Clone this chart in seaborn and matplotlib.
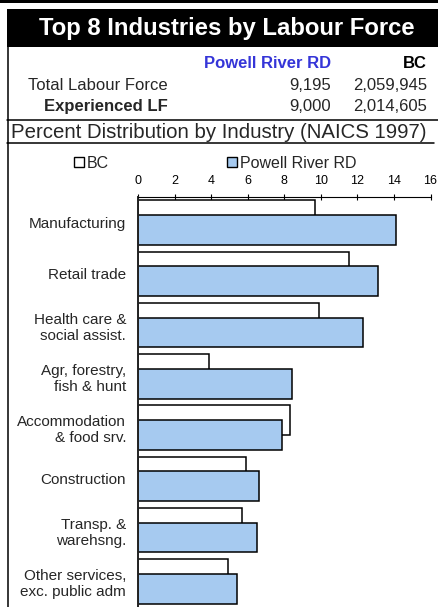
import matplotlib
matplotlib.use("Agg")
import matplotlib.pyplot as plt
from matplotlib.patches import Rectangle
from matplotlib.lines import Line2D
import seaborn as sns
import pandas as pd

# ---- data ----
industries = ["Manufacturing", "Retail trade", "Health care &\nsocial assist.",
              "Agr, forestry,\nfish & hunt", "Accommodation\n& food srv.",
              "Construction", "Transp. &\nwarehsng.", "Other services,\nexc. public adm"]
bc_values = [9.7, 11.55, 9.9, 3.9, 8.3, 5.9, 5.7, 4.9]
pr_values = [14.1, 13.15, 12.3, 8.45, 7.9, 6.6, 6.5, 5.4]
series_names = ["BC", "Powell River RD"]
x_ticks = [0, 2, 4, 6, 8, 10, 12, 14, 16]
title = "Top 8 Industries by Labour Force"
subtitle = "Percent Distribution by Industry (NAICS 1997)"
table_header = ["Powell River RD", "BC"]
table_rows = ["Total Labour Force", "Experienced LF"]
table_pr = ["9,195", "9,000"]
table_bc = ["2,059,945", "2,014,605"]

sns.set_style("white")
plt.rcParams["font.family"] = ["Liberation Sans", "DejaVu Sans"]

W, H = 438, 607
fig = plt.figure(figsize=(W / 100, H / 100), dpi=100)
fig.patch.set_facecolor("white")


def fx(x):
    return x / W


def fy(y):
    return 1 - y / H


def rect(x0, y0, x1, y1, **kw):
    fig.add_artist(Rectangle((fx(x0), fy(y1)), fx(x1) - fx(x0), fy(y0) - fy(y1),
                             transform=fig.transFigure, **kw))


def line(x0, y0, x1, y1, lw=1.1, color="black"):
    fig.add_artist(Line2D([fx(x0), fx(x1)], [fy(y0), fy(y1)], transform=fig.transFigure,
                          lw=lw, color=color))


# header decorations
rect(0, 0, 438, 2.5, facecolor="black", edgecolor="none")
rect(7, 9, 438, 47, facecolor="black", edgecolor="none")
fig.text(fx(226.5), fy(28), title, color="white", fontsize=17.2, fontweight="bold",
         ha="center", va="center")

line(7.5, 47, 7.5, 143)
line(7, 119.5, 438, 119.5)
line(7, 143, 434, 143)
line(7.5, 143, 7.5, 607)

blue = "#3535D8"
fig.text(fx(331), fy(68), table_header[0], color=blue, fontsize=12, fontweight="bold",
         ha="right", va="baseline")
fig.text(fx(427), fy(68), table_header[1], color="black", fontsize=12, fontweight="bold",
         ha="right", va="baseline")
row_y = [90, 111]
for i, lab in enumerate(table_rows):
    fig.text(fx(168), fy(row_y[i]), lab, fontsize=12, ha="right", va="baseline",
             fontweight="bold" if i == 1 else "normal")
    fig.text(fx(331), fy(row_y[i]), table_pr[i], fontsize=12, ha="right", va="baseline")
    fig.text(fx(427), fy(row_y[i]), table_bc[i], fontsize=12, ha="right", va="baseline")

fig.text(fx(11), fy(138), subtitle, fontsize=14.7, ha="left", va="baseline")

# ---- chart ----
ax_left, ax_right, ax_top, ax_bottom = 138, 430.5, 197, 607
ax = fig.add_axes([fx(ax_left), fy(ax_bottom), fx(ax_right) - fx(ax_left),
                   fy(ax_top) - fy(ax_bottom)])

df = pd.DataFrame({
    "Industry": industries * 2,
    "Series": [series_names[0]] * len(industries) + [series_names[1]] * len(industries),
    "Value": bc_values + pr_values,
})
bar_color = "#A6CAF0"
sns.barplot(data=df, y="Industry", x="Value", hue="Series", hue_order=series_names,
            order=industries, palette=["white", bar_color], orient="h", dodge=True,
            width=0.58, edgecolor="black", linewidth=1.1, saturation=1, ax=ax,
            legend=False)

# Excel-style overlapping bars: each bar 0.58 tall, centers offset by +/-0.145
bar_h = 0.58
for p in ax.patches:
    cy = p.get_y() + p.get_height() / 2
    p.set_height(bar_h)
    p.set_y(cy - bar_h / 2)

ax.set_xlim(0, 16)
ax.set_ylim(len(industries) - 0.5, -0.5)
ax.set_xticks(x_ticks)
ax.set_xticklabels([str(t) for t in x_ticks])
ax.xaxis.tick_top()
ax.tick_params(axis="x", direction="inout", length=4, width=0.8, labelsize=9, pad=5,
               top=True, bottom=False, colors="black")
ax.tick_params(axis="y", length=0, labelsize=11, pad=8.5)
for lab in ax.get_yticklabels():
    lab.set_horizontalalignment("right")
ax.set_xlabel("")
ax.set_ylabel("")
for s in ["right", "bottom"]:
    ax.spines[s].set_visible(False)
ax.spines["top"].set_color("black")
ax.spines["top"].set_linewidth(0.8)
ax.spines["left"].set_color("#222222")
ax.spines["left"].set_linewidth(1.4)
ax.set_facecolor("white")

handles = [Rectangle((0, 0), 1, 1, facecolor="white", edgecolor="black", lw=1.0),
           Rectangle((0, 0), 1, 1, facecolor=bar_color, edgecolor="black", lw=1.0)]
fig.legend(handles, series_names, loc="center left", bbox_to_anchor=(fx(74), fy(163)),
           ncol=2, frameon=False, fontsize=11.5, handlelength=0.65, handleheight=0.65,
           handletextpad=0.15, columnspacing=7.4, borderpad=0, borderaxespad=0)

fig.savefig("out.png", dpi=100)
